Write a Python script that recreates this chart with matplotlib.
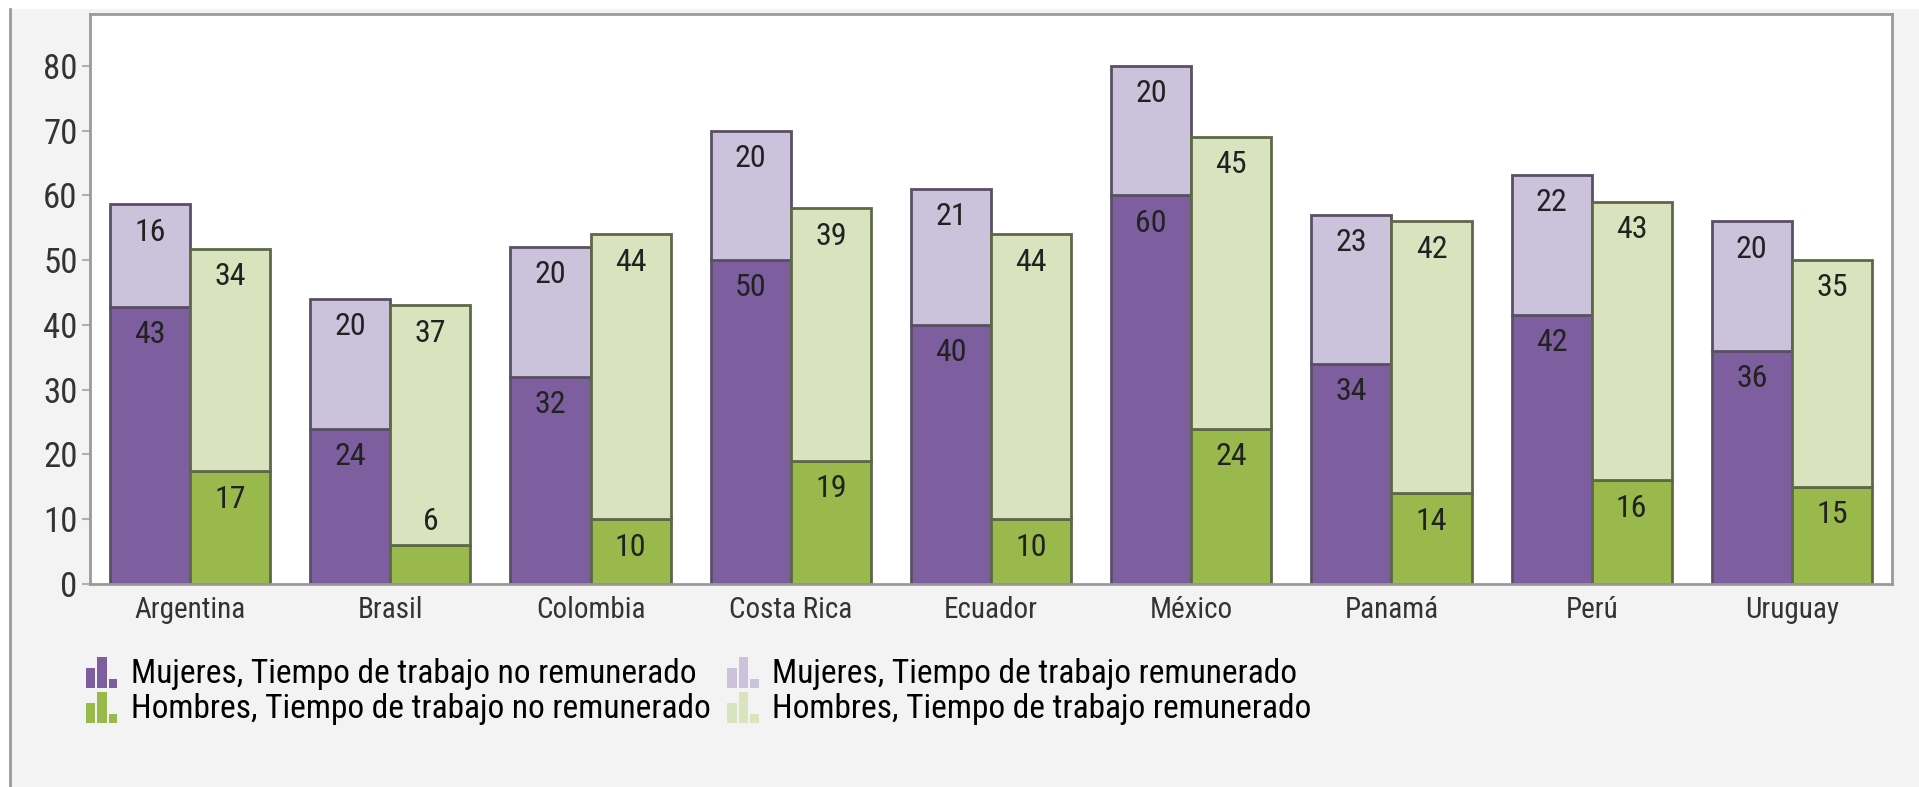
import numpy as np
import matplotlib
matplotlib.use('Agg')
from matplotlib import pyplot as plt
from matplotlib import font_manager
from matplotlib.patches import Rectangle
from matplotlib.lines import Line2D
from matplotlib.legend_handler import HandlerBase
from matplotlib.container import BarContainer

# datos
paises = ['Argentina', 'Brasil', 'Colombia', 'Costa Rica', 'Ecuador',
          'México', 'Panamá', 'Perú', 'Uruguay']
mujeres_no_rem = [42.8, 24, 32, 50, 40, 60, 34, 41.6, 36]
mujeres_rem = [15.8, 20, 20, 20, 21, 20, 23, 21.6, 20]
hombres_no_rem = [17.4, 6, 10, 19, 10, 24, 14, 16, 15]
hombres_rem = [34.3, 37, 44, 39, 44, 45, 42, 43, 35]

etiquetas = ['Mujeres, Tiempo de trabajo no remunerado',
             'Hombres, Tiempo de trabajo no remunerado',
             'Mujeres, Tiempo de trabajo remunerado',
             'Hombres, Tiempo de trabajo remunerado']

# fuente estrecha (el original usa texto alto y angosto)
nombres = {f.name for f in font_manager.fontManager.ttflist}
fam = 'DejaVu Sans'
esc = 0.75
for cand in ['Roboto Condensed', 'Liberation Sans Narrow', 'DejaVu Sans Condensed']:
    if cand in nombres:
        fam = cand
        esc = 1.0
        break
plt.rcParams['font.family'] = [fam, 'DejaVu Sans']

c_mor_osc = '#7d5f9f'
c_mor_cla = '#cbc2dc'
c_ver_osc = '#99b94c'
c_ver_cla = '#d9e4bf'
borde_mor = '#5b4f66'
borde_ver = '#5e6849'


class IconoBarras(HandlerBase):
    # icono con tres barritas como en el original
    def create_artists(self, legend, orig_handle, xdescent, ydescent,
                       width, height, fontsize, trans):
        col = orig_handle.patches[0].get_facecolor()
        arts = []
        for x0, w, h in [(0.05, 0.27, 0.65), (0.38, 0.27, 1.0), (0.71, 0.24, 0.3)]:
            r = Rectangle((-xdescent + x0 * width, -ydescent - 0.08 * height),
                          w * width, h * height * 1.1,
                          facecolor=col, edgecolor='none', transform=trans)
            arts.append(r)
        return arts


W, H = 1919, 787
fig = plt.figure(figsize=(W / 100, H / 100), dpi=100, facecolor='white')

# panel gris de fondo
fig.add_artist(Rectangle((10 / W, 0), 1 - 10 / W, 1 - 9 / H, transform=fig.transFigure,
                         facecolor='#f3f3f3', edgecolor='none', zorder=-10))
fig.add_artist(Line2D([10 / W, 10 / W], [0, 1 - 9 / H], transform=fig.transFigure,
                      color='#9a9a9a', lw=2, zorder=-5))

ax = fig.add_axes([90 / W, 1 - 584 / H, (1892 - 90) / W, (584 - 14) / H])
ax.set_facecolor('white')

x = np.arange(len(paises))
w = 0.4
xm = x - w / 2
xh = x + w / 2

b1 = ax.bar(xm, mujeres_no_rem, w, color=c_mor_osc, edgecolor=borde_mor, linewidth=2)
b2 = ax.bar(xm, mujeres_rem, w, bottom=mujeres_no_rem, color=c_mor_cla,
            edgecolor=borde_mor, linewidth=2)
b3 = ax.bar(xh, hombres_no_rem, w, color=c_ver_osc, edgecolor=borde_ver, linewidth=2)
b4 = ax.bar(xh, hombres_rem, w, bottom=hombres_no_rem, color=c_ver_cla,
            edgecolor=borde_ver, linewidth=2)

# etiquetas de valor arriba dentro de cada segmento
for cont in [b1, b2, b3, b4]:
    for rect in cont:
        v = rect.get_height()
        top = rect.get_y() + v
        cx = rect.get_x() + rect.get_width() / 2
        off = -20 if v >= 8 else 17
        ax.annotate('%.0f' % v, (cx, top), xytext=(0, off), textcoords='offset points',
                    ha='center', va='center', fontsize=23 * esc, color='#222222')

ax.set_xlim(-0.5, len(paises) - 0.5)
ax.set_ylim(0, 88)
ax.set_yticks(range(0, 81, 10))
ax.set_xticks(x)
ax.set_xticklabels(paises)
ax.tick_params(axis='y', labelsize=25 * esc, colors='#333333', length=6, width=1.5,
               color='#b0b0b0', pad=3)
ax.tick_params(axis='x', labelsize=21 * esc, colors='#333333', length=0, pad=9)
for s in ax.spines.values():
    s.set_color('#9a9a9a')
    s.set_linewidth(2)

fig.legend([b1, b3, b2, b4], etiquetas, ncol=2, loc='upper left',
           bbox_to_anchor=(84 / W, 1 - 658 / H), frameon=False, fontsize=24 * esc,
           handler_map={BarContainer: IconoBarras()},
           handlelength=1.05, handleheight=0.9, handletextpad=0.35,
           columnspacing=0.45, labelspacing=0.08, borderpad=0, borderaxespad=0)

plt.savefig('out.png', dpi=100, facecolor=fig.get_facecolor())
